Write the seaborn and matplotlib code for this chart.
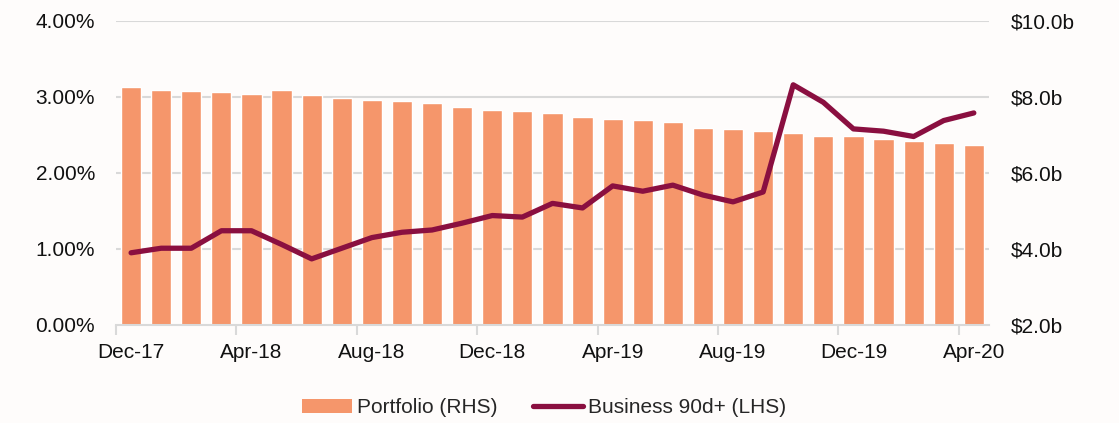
import matplotlib

matplotlib.use("Agg")

import numpy as np
import pandas as pd
import seaborn as sns
from matplotlib import pyplot as plt
from matplotlib.lines import Line2D
from matplotlib.patches import Patch
from matplotlib.ticker import FuncFormatter

# monthly data, Dec-17 .. Apr-20
months = pd.date_range("2017-12-01", "2020-04-01", freq="MS").strftime("%b-%y").tolist()
portfolio_bn = [
    8.27, 8.18, 8.16, 8.14, 8.09, 8.18, 8.06, 7.97, 7.92, 7.89,
    7.85, 7.74, 7.67, 7.64, 7.59, 7.48, 7.43, 7.40, 7.35, 7.18,
    7.17, 7.11, 7.06, 6.98, 6.98, 6.90, 6.85, 6.80, 6.73,
]
business_90d = [
    0.95, 1.01, 1.01, 1.24, 1.24, 1.06, 0.87, 1.01, 1.15, 1.22,
    1.25, 1.34, 1.44, 1.42, 1.60, 1.54, 1.83, 1.76, 1.84, 1.71,
    1.62, 1.75, 3.16, 2.93, 2.58, 2.55, 2.48, 2.69, 2.79,
]
label_months = months[::4]

bar_color = "#f5966b"
line_color = "#8a0f40"
grid_color = "#d9d9d9"
bg = "#fefcfb"
fs = 15

sns.set_style("white")
plt.rcParams["font.family"] = ["Liberation Sans", "DejaVu Sans"]

df = pd.DataFrame({"month": months, "portfolio": portfolio_bn, "business": business_90d})
df["pos"] = np.arange(len(df))

fig = plt.figure(figsize=(11.19, 4.23), dpi=100, facecolor=bg)
ax = fig.add_axes([0.1037, 0.2317, 0.78, 0.7187])
ax.set_facecolor(bg)

# bars (RHS scale)
sns.barplot(data=df, x="pos", y="portfolio", color=bar_color, width=0.67,
            saturation=1, ax=ax, native_scale=True)

# line (LHS scale)
ax2 = ax.twinx()
sns.lineplot(data=df, x="pos", y="business", color=line_color, linewidth=3.8,
             ax=ax2, solid_capstyle="round", solid_joinstyle="round")

ax.set_ylim(2, 10)
ax.set_yticks([2, 4, 6, 8, 10])
ax.yaxis.tick_right()
ax.yaxis.set_major_formatter(FuncFormatter(lambda v, p: f"${v:.1f}b"))
ax2.set_ylim(0, 4)
ax2.set_yticks([0, 1, 2, 3, 4])
ax2.yaxis.tick_left()
ax2.yaxis.set_major_formatter(FuncFormatter(lambda v, p: f"{v:.2f}%"))
for v in [1, 2, 3, 4]:
    ax.axhline(2 + v * 2, color=grid_color, linewidth=1.5, zorder=0)

n = len(months)
for a in (ax, ax2):
    a.set_xlim(-0.5, n - 0.5)
    a.set_xlabel("")
    a.set_ylabel("")
    for s in a.spines.values():
        s.set_visible(False)
    a.tick_params(axis="y", length=0, labelsize=fs, colors="#111111")
ax.spines["bottom"].set_visible(True)
ax.spines["bottom"].set_color(grid_color)
ax.spines["bottom"].set_linewidth(1.5)
ax.tick_params(axis="y", pad=16)
ax2.tick_params(axis="y", pad=15)

# ticks at category boundaries, labels at category centres
ax.set_xticks(np.arange(-0.5, n - 0.5, 4))
ax.set_xticklabels([])
ax.set_xticks(np.arange(0, n, 4), minor=True)
ax.set_xticklabels(label_months, minor=True)
ax.tick_params(axis="x", which="major", bottom=True, length=7, width=1.5, color=grid_color)
ax.tick_params(axis="x", which="minor", bottom=False, length=0, labelsize=fs,
               colors="#111111", pad=13)

handles = [
    Patch(facecolor=bar_color, edgecolor="none", label="Portfolio (RHS)"),
    Line2D([0], [0], color=line_color, linewidth=3.8, solid_capstyle="round",
           label="Business 90d+ (LHS)"),
]
fig.legend(handles=handles, loc="center", bbox_to_anchor=(0.486, 0.036), ncol=2,
           frameon=False, fontsize=fs, handlelength=2.4, handletextpad=0.25,
           columnspacing=1.7)

fig.savefig("out.png", dpi=100, facecolor=bg)
